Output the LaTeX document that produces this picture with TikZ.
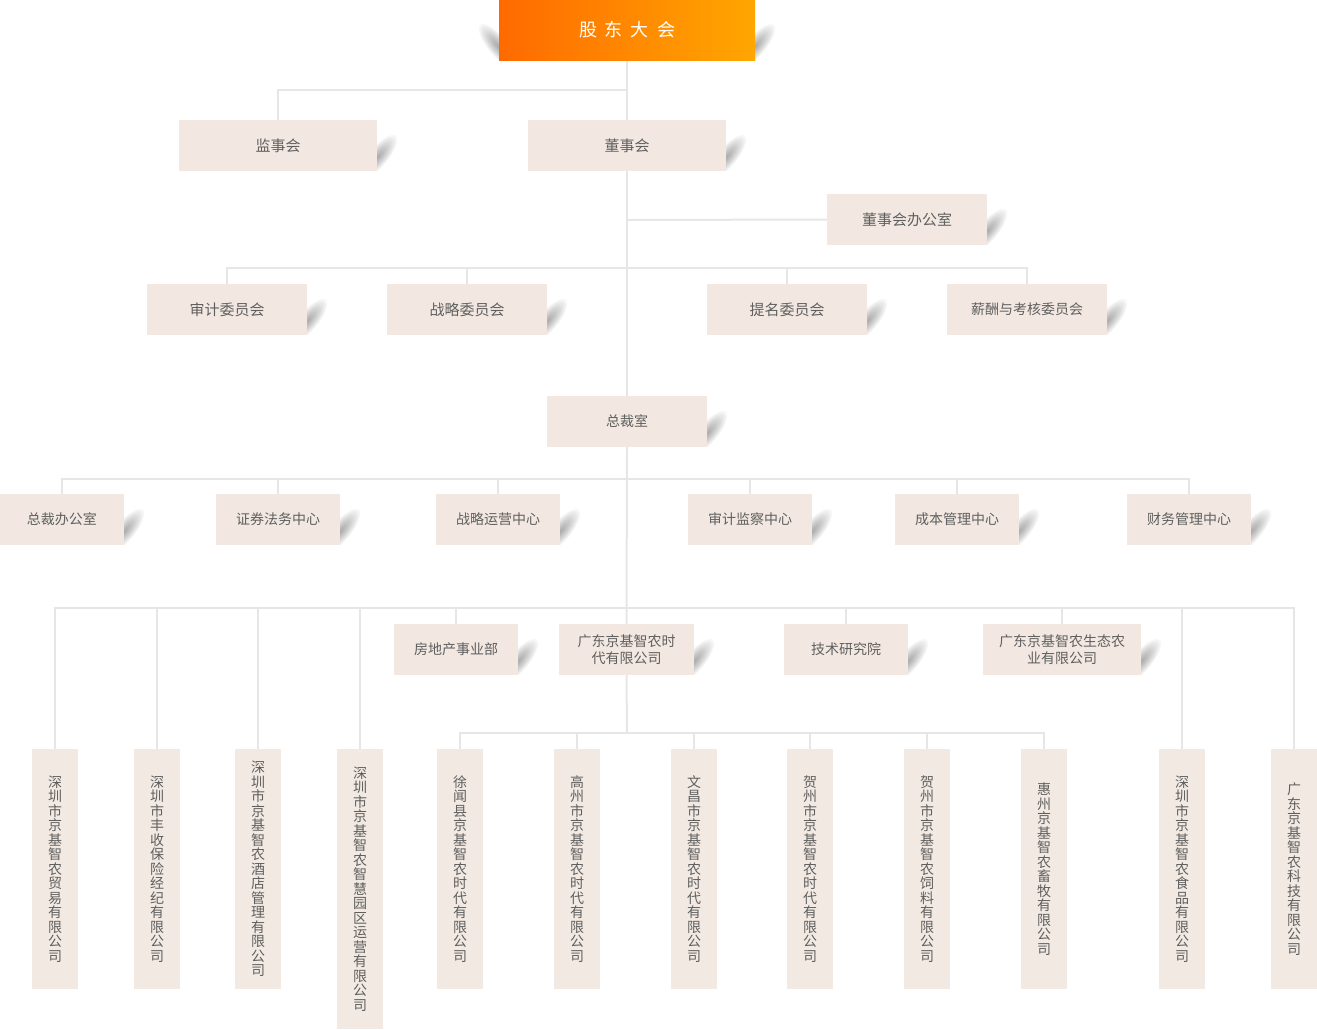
\documentclass[tikz,border=0pt]{standalone}
\usepackage{fontspec}
\setmainfont{Noto Sans CJK SC}
\definecolor{boxfill}{HTML}{F2E8E1}
\definecolor{vfill}{HTML}{F2EAE2}
\definecolor{linec}{HTML}{E6E6E6}
\definecolor{txt}{HTML}{5F5F5F}
\definecolor{orA}{HTML}{FF6A00}
\definecolor{orB}{HTML}{FFA600}
\newcommand{\rshadow}[2]{%
  \begin{scope}
    \clip (#1,-#2) rectangle ++(40,50);
    \begin{scope}[shift={(#1+1,-#2+14)}, rotate=50]
      \foreach \k in {1,...,12} {\fill[black, opacity=0.03] (0,0) ellipse ({2.3*\k} and {0.8*\k});}
    \end{scope}
  \end{scope}}
\newcommand{\lshadow}[2]{%
  \begin{scope}
    \clip (#1,-#2) rectangle ++(-40,50);
    \begin{scope}[shift={(#1-1,-#2+14)}, rotate=130]
      \foreach \k in {1,...,12} {\fill[black, opacity=0.03] (0,0) ellipse ({2.3*\k} and {0.8*\k});}
    \end{scope}
  \end{scope}}
\tikzset{
  conn/.style={draw=linec, line width=2pt},
  hbox/.style={fill=boxfill, text=txt, inner sep=0pt, align=center, minimum height=51,
    font=\fontsize{14}{17.5}\selectfont},
  hbig/.style={hbox, font=\fontsize{15}{18}\selectfont},
  vbox/.style={fill=vfill, text=txt, inner sep=0pt, align=center, minimum width=46,
    minimum height=240, font=\fontsize{14}{14.5}\selectfont}
}
\begin{document}
\begin{tikzpicture}[x=1pt, y=1pt]
\useasboundingbox (0,0) rectangle (1317,-1029);
% bus coordinates
\coordinate (bus1) at (627,-90);
\coordinate (bus0) at (627,-220);
\coordinate (bus2) at (627,-268);
\coordinate (bus3) at (627,-479);
\coordinate (bus4) at (627,-608);
\coordinate (bus5) at (627,-733);
% node placeholders (boxes are filled later, connectors first)
\path
  (627,-30) node[minimum width=256, minimum height=60, inner sep=0pt] (gd) {}
  (278,-145.5) node[hbig, minimum width=198] (jsh) {}
  (627,-145.5) node[hbig, minimum width=198] (dsh) {}
  (907,-219.5) node[hbig, minimum width=160] (dsb) {}
  (227,-309.5) node[hbig, minimum width=160] (c1) {}
  (467,-309.5) node[hbig, minimum width=160] (c2) {}
  (787,-309.5) node[hbig, minimum width=160] (c3) {}
  (1027,-309.5) node[hbig, minimum width=160] (c4) {}
  (627,-421.5) node[hbox, minimum width=160] (zcs) {}
  (62,-519.5) node[hbox, minimum width=124] (m1) {}
  (278,-519.5) node[hbox, minimum width=124] (m2) {}
  (498,-519.5) node[hbox, minimum width=124] (m3) {}
  (750,-519.5) node[hbox, minimum width=124] (m4) {}
  (957,-519.5) node[hbox, minimum width=124] (m5) {}
  (1189,-519.5) node[hbox, minimum width=124] (m6) {}
  (456,-649.5) node[hbox, minimum width=124] (r1) {}
  (626.5,-649.5) node[hbox, minimum width=135] (r2) {}
  (846,-649.5) node[hbox, minimum width=124] (r3) {}
  (1062,-649.5) node[hbox, minimum width=158] (r4) {}
  (55,-869) node[vbox] (v1) {}
  (157,-869) node[vbox] (v2) {}
  (258,-869) node[vbox] (v3) {}
  (360,-889) node[vbox, minimum height=280] (v4) {}
  (460,-869) node[vbox] (v5) {}
  (577,-869) node[vbox] (v6) {}
  (694,-869) node[vbox] (v7) {}
  (810,-869) node[vbox] (v8) {}
  (927,-869) node[vbox] (v9) {}
  (1044,-869) node[vbox] (v10) {}
  (1182,-869) node[vbox] (v11) {}
  (1294,-869) node[vbox] (v12) {};
% connectors
\draw[conn] (gd.south) -- (dsh.north);
\draw[conn] (jsh.north) |- (bus1);
\draw[conn] (dsh.south) -- (zcs.north);
\draw[conn] (dsb.west) -- (bus0);
\foreach \n in {c1,c2,c3,c4} {\draw[conn] (\n.north) |- (bus2);}
\draw[conn] (zcs.south) -- (r2.north);
\foreach \n in {m1,m2,m3,m4,m5,m6} {\draw[conn] (\n.north) |- (bus3);}
\foreach \n in {v1,v2,v3,v4,r1,r3,r4,v11,v12} {\draw[conn] (\n.north) |- (bus4);}
\draw[conn] (r2.south) -- (bus5);
\foreach \n in {v5,v6,v7,v8,v9,v10} {\draw[conn] (\n.north) |- (bus5);}
% shadows
\lshadow{499}{60}
\rshadow{755}{60}
\rshadow{377}{171}
\rshadow{726}{171}
\rshadow{987}{245}
\rshadow{307}{335}
\rshadow{547}{335}
\rshadow{867}{335}
\rshadow{1107}{335}
\rshadow{707}{447}
\rshadow{124}{545}
\rshadow{340}{545}
\rshadow{560}{545}
\rshadow{812}{545}
\rshadow{1019}{545}
\rshadow{1251}{545}
\rshadow{518}{675}
\rshadow{694}{675}
\rshadow{908}{675}
\rshadow{1141}{675}
% boxes
\node[minimum width=256, minimum height=60, inner sep=0pt, left color=orA, right color=orB,
  text=white, font=\fontsize{18}{20}\selectfont] at (gd) {股\hspace{8pt}东\hspace{8pt}大\hspace{8pt}会};
\node[hbig, minimum width=198] at (jsh) {监事会};
\node[hbig, minimum width=198] at (dsh) {董事会};
\node[hbig, minimum width=160] at (dsb) {董事会办公室};
\node[hbig, minimum width=160] at (c1) {审计委员会};
\node[hbig, minimum width=160] at (c2) {战略委员会};
\node[hbig, minimum width=160] at (c3) {提名委员会};
\node[hbox, minimum width=160] at (c4) {薪酬与考核委员会};
\node[hbox, minimum width=160] at (zcs) {总裁室};
\node[hbox, minimum width=124] at (m1) {总裁办公室};
\node[hbox, minimum width=124] at (m2) {证券法务中心};
\node[hbox, minimum width=124] at (m3) {战略运营中心};
\node[hbox, minimum width=124] at (m4) {审计监察中心};
\node[hbox, minimum width=124] at (m5) {成本管理中心};
\node[hbox, minimum width=124] at (m6) {财务管理中心};
\node[hbox, minimum width=124] at (r1) {房地产事业部};
\node[hbox, minimum width=135] at (r2) {广东京基智农时\\代有限公司};
\node[hbox, minimum width=124] at (r3) {技术研究院};
\node[hbox, minimum width=158] at (r4) {广东京基智农生态农\\业有限公司};
\node[vbox] at (v1) {深\\圳\\市\\京\\基\\智\\农\\贸\\易\\有\\限\\公\\司};
\node[vbox] at (v2) {深\\圳\\市\\丰\\收\\保\\险\\经\\纪\\有\\限\\公\\司};
\node[vbox] at (v3) {深\\圳\\市\\京\\基\\智\\农\\酒\\店\\管\\理\\有\\限\\公\\司};
\node[vbox, minimum height=280] at (v4) {深\\圳\\市\\京\\基\\智\\农\\智\\慧\\园\\区\\运\\营\\有\\限\\公\\司};
\node[vbox] at (v5) {徐\\闻\\县\\京\\基\\智\\农\\时\\代\\有\\限\\公\\司};
\node[vbox] at (v6) {高\\州\\市\\京\\基\\智\\农\\时\\代\\有\\限\\公\\司};
\node[vbox] at (v7) {文\\昌\\市\\京\\基\\智\\农\\时\\代\\有\\限\\公\\司};
\node[vbox] at (v8) {贺\\州\\市\\京\\基\\智\\农\\时\\代\\有\\限\\公\\司};
\node[vbox] at (v9) {贺\\州\\市\\京\\基\\智\\农\\饲\\料\\有\\限\\公\\司};
\node[vbox] at (v10) {惠\\州\\京\\基\\智\\农\\畜\\牧\\有\\限\\公\\司};
\node[vbox] at (v11) {深\\圳\\市\\京\\基\\智\\农\\食\\品\\有\\限\\公\\司};
\node[vbox] at (v12) {广\\东\\京\\基\\智\\农\\科\\技\\有\\限\\公\\司};
\end{tikzpicture}
\end{document}
